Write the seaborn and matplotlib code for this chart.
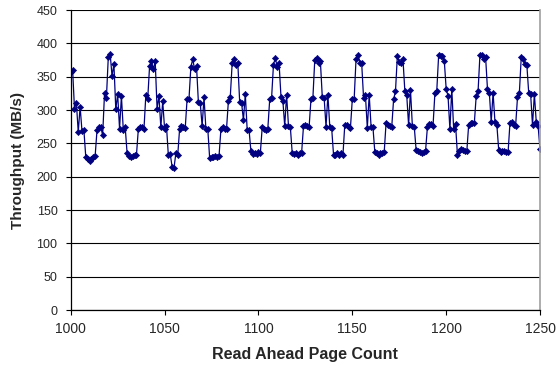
import matplotlib
matplotlib.use("Agg")
import matplotlib.pyplot as plt
import seaborn as sns
import numpy as np
import pandas as pd

# Read-ahead page counts 1000..1250, one measurement per count
page_start = 1000
page_end = 1250

# Throughput (MB/s), listed in repeating 22-sample cycles
head = [357, 360,
        302, 311, 267, 305, 268, 270,
        230, 227, 224, 227, 229, 231,
        270, 275, 275, 262]
cycle_01 = [325, 318, 379, 384, 351, 369, 301, 324, 272, 321, 270, 275,
            236, 231, 230, 231, 232, 232, 271, 275, 274, 271]
cycle_02 = [322, 316, 366, 374, 361, 373, 302, 321, 274, 313, 272, 276,
            232, 234, 215, 213, 235, 232, 272, 276, 275, 273]
cycle_03 = [317, 317, 365, 376, 361, 366, 312, 310, 276, 319, 272, 272,
            228, 230, 229, 231, 230, 231, 271, 274, 271, 272]
cycle_04 = [314, 320, 370, 377, 367, 371, 312, 311, 285, 324, 270, 270,
            238, 234, 236, 234, 237, 235, 274, 272, 270, 272]
cycle_05 = [316, 318, 368, 378, 364, 370, 320, 314, 276, 323, 276, 274,
            235, 234, 235, 233, 235, 236, 276, 278, 276, 275]
cycle_06 = [317, 318, 375, 378, 371, 373, 320, 318, 275, 323, 275, 273,
            233, 233, 235, 233, 235, 232, 278, 277, 275, 273]
cycle_07 = [316, 317, 377, 383, 371, 370, 318, 322, 273, 323, 275, 274,
            237, 235, 233, 236, 236, 237, 281, 278, 276, 274]
cycle_08 = [316, 328, 381, 372, 371, 376, 328, 322, 277, 330, 276, 275,
            240, 239, 237, 235, 237, 238, 274, 279, 279, 276]
cycle_09 = [325, 329, 382, 381, 381, 374, 332, 321, 271, 332, 271, 279,
            233, 238, 241, 240, 238, 238, 278, 281, 280, 280]
cycle_10 = [321, 328, 383, 383, 376, 380, 332, 326, 282, 326, 282, 278,
            240, 237, 238, 238, 237, 237, 281, 282, 277, 276]
tail = [319, 326, 379, 376, 369, 367, 325, 324, 277, 324, 282, 276,
        241]

throughput = (head + cycle_01 + cycle_02 + cycle_03 + cycle_04 + cycle_05
              + cycle_06 + cycle_07 + cycle_08 + cycle_09 + cycle_10 + tail)
page_count = list(range(page_start, page_end + 1))

x_ticks = [1000, 1050, 1100, 1150, 1200, 1250]
y_ticks = [0, 50, 100, 150, 200, 250, 300, 350, 400, 450]

df = pd.DataFrame({"Read Ahead Page Count": page_count,
                   "Throughput (MB/s)": throughput})

sns.set_style("white")
plt.rcParams["font.family"] = ["Liberation Sans", "DejaVu Sans"]

fig = plt.figure(figsize=(5.57, 3.71), dpi=100)
ax = fig.add_axes([0.127, 0.1644, 0.8425, 0.8086])

ax.set_axisbelow(True)
ax.yaxis.grid(True, color="#000000", linewidth=0.8)
ax.xaxis.grid(False)

sns.lineplot(data=df, x="Read Ahead Page Count", y="Throughput (MB/s)",
             ax=ax, color="#000080", linewidth=0.9, marker="D",
             markersize=3.2, markeredgewidth=0.4, markeredgecolor="#000080")

ax.set_xlim(page_start, page_end)
ax.set_ylim(0, 450)
ax.set_xticks(x_ticks)
ax.set_yticks(y_ticks)
ax.tick_params(axis="both", which="major", direction="out", length=3.5,
               width=0.8, color="black", bottom=True, left=True)
ax.tick_params(axis="y", labelsize=9, pad=6)
ax.tick_params(axis="x", labelsize=10, pad=5)

for side in ("left", "bottom"):
    ax.spines[side].set_color("black")
    ax.spines[side].set_linewidth(0.9)
ax.spines["right"].set_color("#a0a0a0")
ax.spines["right"].set_linewidth(1.2)
ax.spines["top"].set_visible(False)

ax.set_xlabel("Read Ahead Page Count", fontsize=11.5, fontweight="bold",
              labelpad=8)
ax.set_ylabel("Throughput (MB/s)", fontsize=11, fontweight="bold",
              labelpad=8)

fig.savefig("out.png", dpi=100)
